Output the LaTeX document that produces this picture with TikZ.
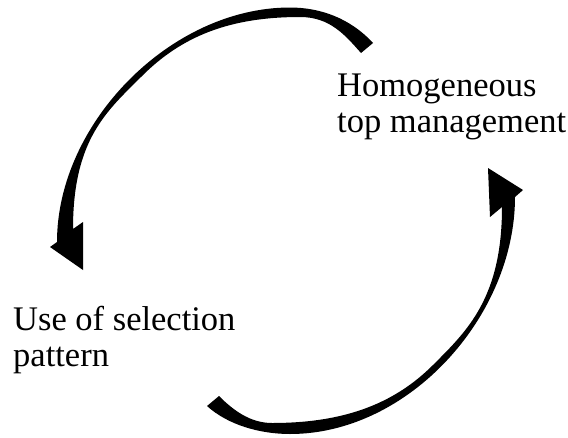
\documentclass[tikz,border=0pt]{standalone}
\usepackage{fontspec}
\setmainfont{Liberation Serif}
\begin{document}
\begin{tikzpicture}
[x=1pt,y=-1pt,every node/.style={inner sep=0, align=left, anchor=base west, font=\fontsize{34.5}{36}\selectfont}]
\useasboundingbox (0,0) rectangle (568,437);
% labels (base = last line)
\node (mgmt) at (337,132) {Homogeneous\\top management};
\node (sel) at (13,366) {Use of selection\\pattern};
% upper arrow, from mgmt round to sel
\fill (373,43) .. controls (350,18) and (320,7.5) .. (290,7.5)
  .. controls (171,7.5) and (57,123) .. (57,242)
  -- (50,247) -- (83,270) -- (83,222) -- (73,229)
  .. controls (73,139) and (107,111) .. (142,76)
  .. controls (182,36) and (230,17) .. (300,17)
  .. controls (330,17) and (345,35) .. (361,53) -- cycle;
% lower arrow, from sel round to mgmt
\fill (207,406) .. controls (228,425) and (260,434) .. (290,434)
  .. controls (409,434) and (515,316) .. (515,197)
  -- (523,190) -- (488,168) -- (490,217) -- (502,207)
  .. controls (502,298) and (467,331) .. (433,365)
  .. controls (393,405) and (342,423) .. (272,423)
  .. controls (250,423) and (233,410) .. (219,396) -- cycle;
\end{tikzpicture}
\end{document}
